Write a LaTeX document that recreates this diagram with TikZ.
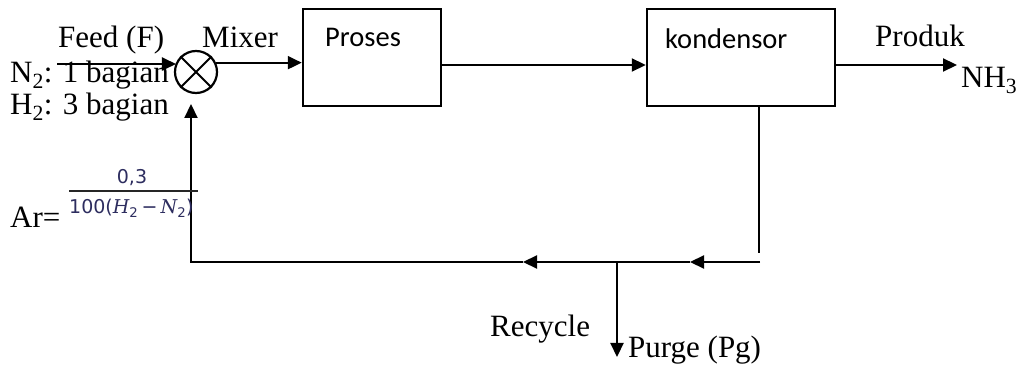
\documentclass[tikz,border=0pt]{standalone}
\usepackage{fontspec}
\setmainfont{Liberation Serif}
\newfontfamily\calib{Carlito}
\newfontfamily\fracf{DejaVu Sans}
\newfontfamily\fraci{DejaVu Serif Italic}
\usetikzlibrary{arrows.meta,calc}
\definecolor{fraccol}{RGB}{45,45,95}
\begin{document}
\begin{tikzpicture}[x=1pt,y=-1pt,
  line/.style={line width=2.2pt},
  arr/.style={line, -{Triangle[length=14pt,width=13pt]}},
  txt/.style={font=\fontsize{31}{36}\selectfont, inner sep=0pt, anchor=base west},
  boxtxt/.style={font=\calib\fontsize{28.5}{34}\selectfont, inner sep=0pt, anchor=base west},
  block/.style={draw, line width=2.5pt, minimum height=97pt, inner sep=0pt},
  frac/.style={text=fraccol, inner sep=0pt, font=\fracf\fontsize{19}{22}\selectfont}]
\useasboundingbox (0,0) rectangle (1029,382);
% blocks
\node[block, minimum width=138pt] (proses) at (372,57.5) {};
\node[block, minimum width=188pt] (kond) at (741,57.5) {};
\node[boxtxt] (prost) at (325,47) {Proses};
\node[boxtxt] (kondt) at (665,49) {kondensor};
% mixer
\node[circle, draw, line width=2.2pt, minimum size=42pt, inner sep=0pt] (mixer) at (196,72) {};
\draw[line width=1.8pt] (mixer.45) -- (mixer.225) (mixer.135) -- (mixer.315);
% coordinates
\coordinate (feedin) at (57,64);
\coordinate (ly) at (0,65);
\coordinate (prodend) at (957,65);
\coordinate (kdown) at (759,253);
\coordinate (rstart) at (760,262);
\coordinate (a1) at (690,262);
\coordinate (a2) at (523,262);
\coordinate (rcorner) at (191,262);
\coordinate (uptip) at (191,104);
\coordinate (ptop) at (617,262);
\coordinate (pend) at (617,357);
\coordinate (fl) at (69,191);
\coordinate (fr) at (198,191);
% connectors
\draw[arr] (feedin) -- (feedin -| mixer.155);
\draw[arr] (mixer.25) -- (mixer.25 -| proses.west);
\draw[arr] (proses.east |- ly) -- (kond.west |- ly);
\draw[arr] (kond.east |- ly) -- (prodend);
\draw[line] (kdown |- kond.south) -- (kdown);
\draw[arr] (rstart) -- (a1);
\draw[arr] (a1) -- (a2);
\draw[arr] (a2) -- (rcorner) -- (uptip);
\draw[arr] (ptop) -- (pend);
% labels
\node[txt] (feed) at (58,48) {Feed (F)};
\node[txt] (mixl) at (202,48) {Mixer};
\node[txt] (n2) at (10,83) {N\textsubscript{2}: 1 bagian};
\node[txt] (h2) at (10,115) {H\textsubscript{2}: 3 bagian};
\node[txt] (ar) at (10,228) {Ar=};
\node[txt] (produk) at (875,47) {Produk};
\node[txt] (nh3) at (961,88) {NH\textsubscript{3}};
\node[txt] (recyc) at (490,337) {Recycle};
\node[txt] (purge) at (628,357) {Purge (Pg)};
% fraction
\draw[line width=1.4pt, black!85] (fl) -- (fr);
\node[frac] (num) at (132,178) {0,3};
\node[frac, anchor=base west] (den) at (69,214) {100({\fraci H}\textsubscript{2}\,−\,{\fraci N}\textsubscript{2})};
\end{tikzpicture}
\end{document}
